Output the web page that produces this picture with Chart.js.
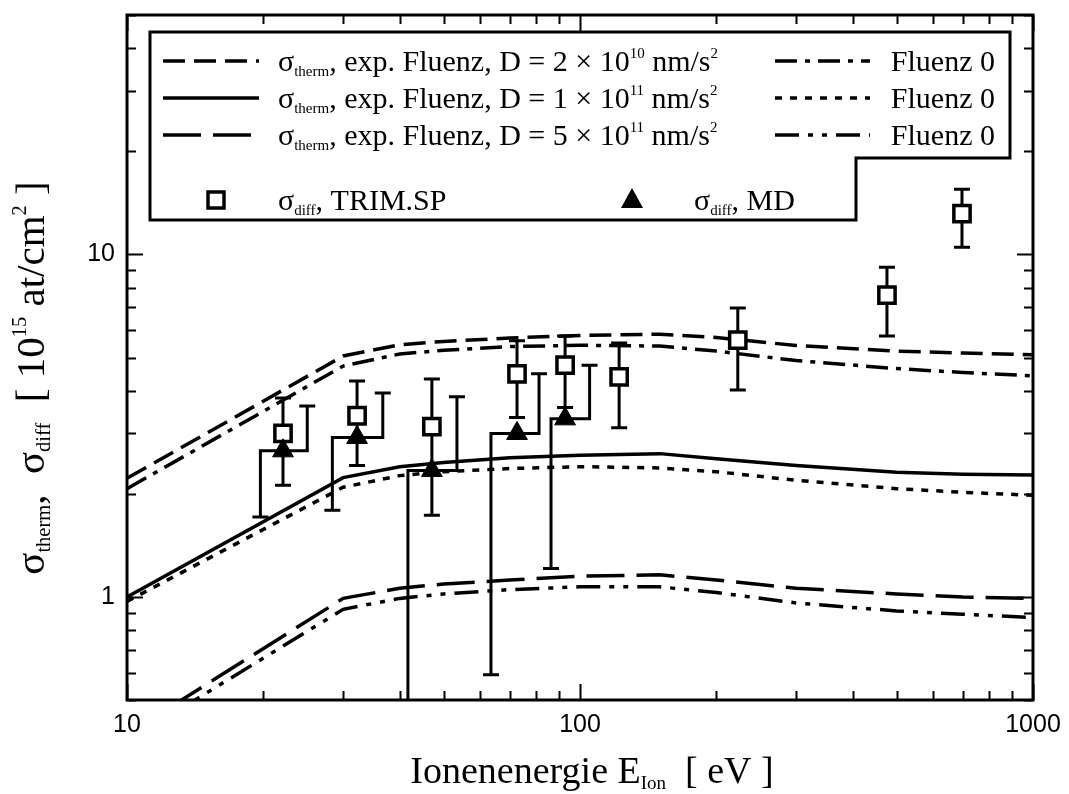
<!DOCTYPE html>
<html>
<head>
<meta charset="utf-8">
<script src="https://cdn.jsdelivr.net/npm/chart.js@4.4.0/dist/chart.umd.min.js"></script>
<style>
  html, body { margin: 0; padding: 0; background: #fff; }
  #wrap { width: 1069px; height: 794px; position: relative; }
</style>
</head>
<body>
<div id="wrap"><canvas id="chart"></canvas></div>
<script>
// energy grid of the model curves (eV)
const energyGrid = [10, 30, 40, 50, 70, 100, 150, 200, 300, 500, 700, 1000];

// sigma_therm, exp. fluence, three D values, and the matching "Fluenz 0" curves
const thermD2e10 = [2.22, 5.05, 5.45, 5.57, 5.70, 5.80, 5.85, 5.72, 5.42, 5.22, 5.15, 5.09];
const fluenz0A   = [2.07, 4.72, 5.12, 5.25, 5.38, 5.43, 5.40, 5.22, 4.90, 4.64, 4.52, 4.42];
const thermD1e11 = [1.00, 2.23, 2.40, 2.47, 2.55, 2.59, 2.62, 2.53, 2.42, 2.31, 2.28, 2.27];
const fluenz0B   = [0.97, 2.09, 2.26, 2.32, 2.37, 2.40, 2.38, 2.32, 2.19, 2.07, 2.02, 1.98];
const thermD5e11 = [0.397, 0.99, 1.06, 1.09, 1.12, 1.15, 1.16, 1.12, 1.06, 1.02, 1.00, 0.99];
const fluenz0C   = [0.378, 0.92, 0.99, 1.02, 1.05, 1.07, 1.07, 1.03, 0.96, 0.91, 0.89, 0.87];

// sigma_diff from TRIM.SP with error range
const trimEnergy = [22.1, 32.2, 47.1, 72.6, 92.7, 122, 223, 476, 697];
const trimSigma  = [3.00, 3.38, 3.14, 4.48, 4.75, 4.39, 5.62, 7.61, 13.15];
const trimErrHi  = [3.81, 4.27, 4.33, 5.60, 5.78, 5.51, 6.97, 9.17, 15.5];
const trimErrLo  = [2.12, 2.42, 1.73, 3.34, 3.57, 3.12, 4.02, 5.78, 10.5];

// sigma_diff from MD; upper and lower bars sit beside the point
const mdEnergy   = [22.1, 32.2, 47.1, 72.6, 92.7];
const mdSigma    = [2.67, 2.92, 2.34, 3.00, 3.31];
const mdErrHi    = [3.61, 3.94, 3.84, 4.48, 4.75];
const mdErrLo    = [1.71, 1.79, 0.45, 0.593, 1.21];
const mdHiEnergy = [25.0, 36.7, 53.5, 81.2, 105];
const mdLoEnergy = [19.7, 28.4, 41.7, 63.6, 86.3];

const xTickLabels = [10, 100, 1000];
const yTickLabels = [1, 10];

const SERIF = '"Liberation Serif", "Times New Roman", serif';
const SANS = '"Liberation Sans", Arial, sans-serif';

const curves = [
  { values: thermD2e10, dash: [22, 9] },
  { values: fluenz0A,   dash: [22, 8, 5, 8] },
  { values: thermD1e11, dash: [] },
  { values: fluenz0B,   dash: [7, 8] },
  { values: thermD5e11, dash: [38, 12] },
  { values: fluenz0C,   dash: [24, 9, 5, 9, 5, 9] }
];

function toPoints(xs, ys) {
  return xs.map((x, i) => ({ x: x, y: ys[i] }));
}

// text made of normal / sub / sup pieces
function richWidth(ctx, parts, size) {
  let w = 0;
  parts.forEach(p => {
    const s = p[1] ? size * 0.5 : size;
    ctx.font = s + 'px ' + SERIF;
    w += ctx.measureText(p[0]).width;
  });
  return w;
}

function drawRich(ctx, parts, x, y, size, align) {
  let cx = x;
  const w = richWidth(ctx, parts, size);
  if (align === 'center') cx = x - w / 2;
  else if (align === 'right') cx = x - w;
  ctx.textBaseline = 'alphabetic';
  ctx.textAlign = 'left';
  parts.forEach(p => {
    const kind = p[1] || 0;
    const s = kind ? size * 0.5 : size;
    let dy = 0;
    if (kind === 1) dy = size * 0.15;
    if (kind === 2) dy = -size * 0.45;
    ctx.font = s + 'px ' + SERIF;
    ctx.fillText(p[0], cx, y + dy);
    cx += ctx.measureText(p[0]).width;
  });
}

function drawErrorBars(chart) {
  const { ctx, chartArea: a, scales: { x, y } } = chart;
  const cap = 8;
  ctx.save();
  ctx.beginPath();
  ctx.rect(a.left, a.top, a.right - a.left, a.bottom - a.top);
  ctx.clip();
  ctx.strokeStyle = '#000';
  ctx.lineWidth = 3;
  ctx.setLineDash([]);

  trimEnergy.forEach((e, i) => {
    const px = x.getPixelForValue(e);
    const hi = y.getPixelForValue(trimErrHi[i]);
    const lo = y.getPixelForValue(trimErrLo[i]);
    ctx.beginPath();
    ctx.moveTo(px, hi); ctx.lineTo(px, lo);
    ctx.moveTo(px - cap, hi); ctx.lineTo(px + cap, hi);
    ctx.moveTo(px - cap, lo); ctx.lineTo(px + cap, lo);
    ctx.stroke();
  });

  mdEnergy.forEach((e, i) => {
    const xr = x.getPixelForValue(mdHiEnergy[i]);
    const xl = x.getPixelForValue(mdLoEnergy[i]);
    const yc = y.getPixelForValue(mdSigma[i]);
    const hi = y.getPixelForValue(mdErrHi[i]);
    const lo = y.getPixelForValue(mdErrLo[i]);
    ctx.beginPath();
    ctx.moveTo(xr - cap, hi); ctx.lineTo(xr + cap, hi);
    ctx.moveTo(xr, hi); ctx.lineTo(xr, yc); ctx.lineTo(xl, yc); ctx.lineTo(xl, lo);
    ctx.moveTo(xl - cap, lo); ctx.lineTo(xl + cap, lo);
    ctx.stroke();
  });
  ctx.restore();
}

// minor/major tick values m*10^k inside [min, max]
function logTickValues(min, max) {
  const out = [];
  for (let k = Math.floor(Math.log10(min)); k <= Math.ceil(Math.log10(max)); k++) {
    for (let m = 1; m <= 9; m++) {
      const v = m * Math.pow(10, k);
      if (v >= min * 0.999 && v <= max * 1.001) out.push({ v: v, major: m === 1 });
    }
  }
  return out;
}

function drawFrame(chart) {
  const { ctx, chartArea: a, scales: { x, y } } = chart;
  ctx.save();
  ctx.strokeStyle = '#000';
  ctx.setLineDash([]);
  ctx.lineWidth = 2;
  const majorLen = 16, minorLen = 9;
  ctx.beginPath();
  logTickValues(x.min, x.max).forEach(t => {
    const px = Math.round(x.getPixelForValue(t.v)) + 0.5;
    const len = t.major ? majorLen : minorLen;
    ctx.moveTo(px, a.bottom); ctx.lineTo(px, a.bottom - len);
    ctx.moveTo(px, a.top); ctx.lineTo(px, a.top + len);
  });
  logTickValues(y.min, y.max).forEach(t => {
    const py = Math.round(y.getPixelForValue(t.v)) + 0.5;
    const len = t.major ? majorLen : minorLen;
    ctx.moveTo(a.left, py); ctx.lineTo(a.left + len, py);
    ctx.moveTo(a.right, py); ctx.lineTo(a.right - len, py);
  });
  ctx.stroke();
  ctx.lineWidth = 3;
  ctx.strokeRect(a.left, a.top, a.right - a.left, a.bottom - a.top);
  ctx.restore();
}

function drawTitles(chart) {
  const ctx = chart.ctx;
  ctx.save();
  ctx.fillStyle = '#000';
  drawRich(ctx, [['Ionenenergie E'], ['Ion', 1], ['  [ eV ]']], 592, 783, 38, 'center');
  ctx.translate(44, 378);
  ctx.rotate(-Math.PI / 2);
  drawRich(ctx, [['σ'], ['therm', 1], [',  σ'], ['diff', 1], ['  [ 10'], ['15', 2], [' at/cm'], ['2', 2], [' ]']], 0, 0, 41, 'center');
  ctx.restore();
}

function sampleLine(ctx, x0, x1, yy, dash) {
  ctx.beginPath();
  ctx.setLineDash(dash);
  ctx.moveTo(x0, yy);
  ctx.lineTo(x1, yy);
  ctx.stroke();
}

function drawLegend(chart) {
  const ctx = chart.ctx;
  ctx.save();
  ctx.beginPath();
  ctx.moveTo(150, 32);
  ctx.lineTo(1010, 32);
  ctx.lineTo(1010, 158);
  ctx.lineTo(856, 158);
  ctx.lineTo(856, 220);
  ctx.lineTo(150, 220);
  ctx.closePath();
  ctx.fillStyle = '#fff';
  ctx.fill();
  ctx.lineWidth = 3;
  ctx.strokeStyle = '#000';
  ctx.setLineDash([]);
  ctx.stroke();

  const rows = [61, 98, 135];
  const dLabels = [['2', '10'], ['1', '11'], ['5', '11']];
  ctx.fillStyle = '#000';
  ctx.lineWidth = 3.5;
  rows.forEach((ry, i) => {
    sampleLine(ctx, 163, 259, ry, curves[i * 2].dash);
    sampleLine(ctx, 775, 870, ry, curves[i * 2 + 1].dash);
    ctx.setLineDash([]);
    drawRich(ctx, [['σ'], ['therm', 1], [', exp. Fluenz, D = ' + dLabels[i][0] + ' × 10'], [dLabels[i][1], 2], [' nm/s'], ['2', 2]], 278, ry + 10, 30, 'left');
    drawRich(ctx, [['Fluenz 0']], 995, ry + 10, 30, 'right');
  });

  // marker row
  const my = 200;
  ctx.setLineDash([]);
  ctx.lineWidth = 3.5;
  ctx.fillStyle = '#fff';
  ctx.fillRect(208, my - 8, 16, 16);
  ctx.strokeRect(208, my - 8, 16, 16);
  ctx.fillStyle = '#000';
  ctx.beginPath();
  ctx.moveTo(632, my - 12);
  ctx.lineTo(643, my + 8);
  ctx.lineTo(621, my + 8);
  ctx.closePath();
  ctx.fill();
  drawRich(ctx, [['σ'], ['diff', 1], [', TRIM.SP']], 278, my + 10, 30, 'left');
  drawRich(ctx, [['σ'], ['diff', 1], [', MD']], 694, my + 10, 30, 'left');
  ctx.restore();
}

const decorPlugin = {
  id: 'decor',
  beforeDatasetsDraw(chart) { drawErrorBars(chart); },
  afterDraw(chart) {
    drawFrame(chart);
    drawTitles(chart);
    drawLegend(chart);
  }
};

const datasets = [
  {
    type: 'scatter',
    data: toPoints(mdEnergy, mdSigma),
    pointStyle: 'triangle',
    pointRadius: 12,
    backgroundColor: '#000',
    borderColor: '#000',
    borderWidth: 1
  },
  {
    type: 'scatter',
    data: toPoints(trimEnergy, trimSigma),
    pointStyle: 'rect',
    pointRadius: 11.5,
    backgroundColor: '#fff',
    borderColor: '#000',
    borderWidth: 3.5
  }
].concat(curves.map(c => ({
  type: 'line',
  data: toPoints(energyGrid, c.values),
  borderColor: '#000',
  borderWidth: 3.5,
  borderDash: c.dash,
  borderCapStyle: 'butt',
  pointRadius: 0,
  fill: false,
  tension: 0
})));

new Chart(document.getElementById('chart'), {
  type: 'line',
  data: { datasets: datasets },
  options: {
    responsive: true,
    maintainAspectRatio: false,
    animation: false,
    events: [],
    layout: { padding: { top: 10, right: 36, left: 0, bottom: 0 } },
    plugins: { legend: { display: false }, tooltip: { enabled: false } },
    scales: {
      x: {
        type: 'logarithmic',
        min: 10,
        max: 1000,
        grid: { display: false, drawTicks: false },
        border: { display: false },
        afterBuildTicks: s => { s.ticks = xTickLabels.map(v => ({ value: v })); },
        afterFit: s => { s.height = 94; s.paddingLeft = 0; s.paddingRight = 0; },
        ticks: {
          autoSkip: false,
          maxRotation: 0,
          padding: 10,
          color: '#000',
          font: { family: SANS, size: 25 },
          callback: v => String(v)
        }
      },
      y: {
        type: 'logarithmic',
        min: 0.5,
        max: 50,
        grid: { display: false, drawTicks: false },
        border: { display: false },
        afterBuildTicks: s => { s.ticks = yTickLabels.map(v => ({ value: v })); },
        afterFit: s => { s.width = 127; s.paddingTop = 0; s.paddingBottom = 0; },
        ticks: {
          autoSkip: false,
          padding: 12,
          color: '#000',
          font: { family: SANS, size: 25 },
          callback: v => String(v)
        }
      }
    }
  },
  plugins: [decorPlugin]
});
</script>
</body>
</html>
